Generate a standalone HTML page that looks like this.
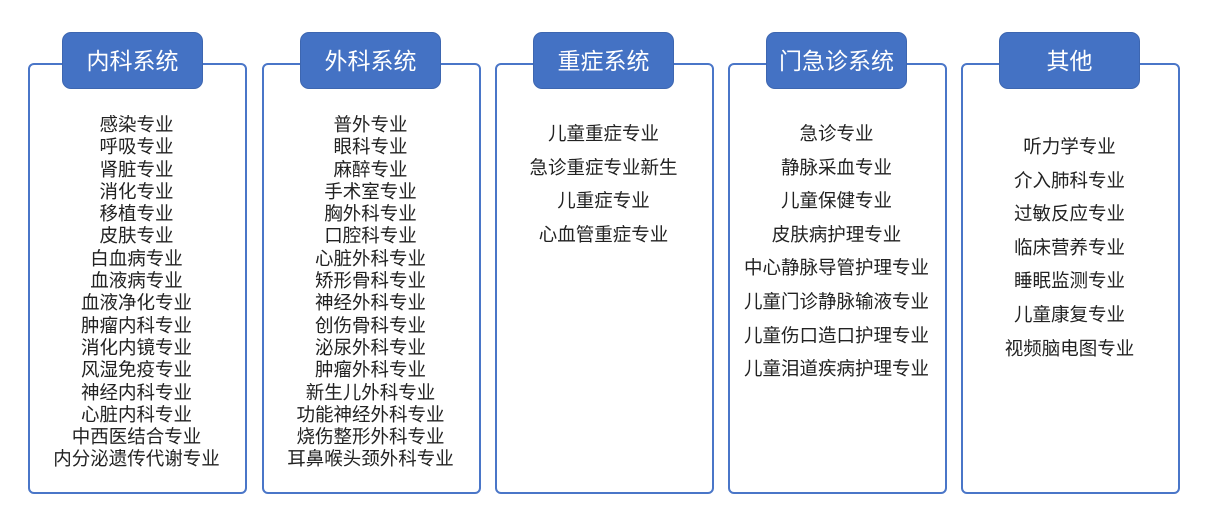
<!DOCTYPE html>
<html><head><meta charset="utf-8"><style>
body{margin:0;width:1207px;height:512px;background:#fff;position:relative;overflow:hidden;font-family:"Liberation Sans","Noto Sans CJK SC",sans-serif;}
.box{position:absolute;top:63px;height:427px;width:215px;border:2px solid #4a76c8;border-radius:6px;box-sizing:content-box;}
.tab{position:absolute;top:32px;height:57px;width:141px;background:#4472c4;border:1px solid #3d66b0;border-radius:9px;color:#fff;font-size:23px;line-height:57px;text-align:center;box-sizing:border-box;}
.list{position:absolute;text-align:center;color:#222;font-size:18.5px;width:217px;}
.list div{white-space:nowrap;}
</style></head><body>
<div class="box" style="left:28px"></div>
<div class="box" style="left:262px"></div>
<div class="box" style="left:495px"></div>
<div class="box" style="left:728px"></div>
<div class="box" style="left:961px"></div>
<div class="tab" style="left:62px">内科系统</div>
<div class="tab" style="left:300px">外科系统</div>
<div class="tab" style="left:533px">重症系统</div>
<div class="tab" style="left:766px">门急诊系统</div>
<div class="tab" style="left:999px">其他</div>
<div class="list" style="left:28px;top:114px;line-height:22.3px">
<div>感染专业</div><div>呼吸专业</div><div>肾脏专业</div><div>消化专业</div><div>移植专业</div><div>皮肤专业</div><div>白血病专业</div><div>血液病专业</div><div>血液净化专业</div><div>肿瘤内科专业</div><div>消化内镜专业</div><div>风湿免疫专业</div><div>神经内科专业</div><div>心脏内科专业</div><div>中西医结合专业</div><div>内分泌遗传代谢专业</div></div>
<div class="list" style="left:262px;top:114px;line-height:22.3px">
<div>普外专业</div><div>眼科专业</div><div>麻醉专业</div><div>手术室专业</div><div>胸外科专业</div><div>口腔科专业</div><div>心脏外科专业</div><div>矫形骨科专业</div><div>神经外科专业</div><div>创伤骨科专业</div><div>泌尿外科专业</div><div>肿瘤外科专业</div><div>新生儿外科专业</div><div>功能神经外科专业</div><div>烧伤整形外科专业</div><div>耳鼻喉头颈外科专业</div></div>
<div class="list" style="left:495px;top:117px;line-height:33.6px">
<div>儿童重症专业</div><div>急诊重症专业新生</div><div>儿重症专业</div><div>心血管重症专业</div></div>
<div class="list" style="left:728px;top:117px;line-height:33.6px">
<div>急诊专业</div><div>静脉采血专业</div><div>儿童保健专业</div><div>皮肤病护理专业</div><div>中心静脉导管护理专业</div><div>儿童门诊静脉输液专业</div><div>儿童伤口造口护理专业</div><div>儿童泪道疾病护理专业</div></div>
<div class="list" style="left:961px;top:130px;line-height:33.6px">
<div>听力学专业</div><div>介入肺科专业</div><div>过敏反应专业</div><div>临床营养专业</div><div>睡眠监测专业</div><div>儿童康复专业</div><div>视频脑电图专业</div></div>
</body></html>
